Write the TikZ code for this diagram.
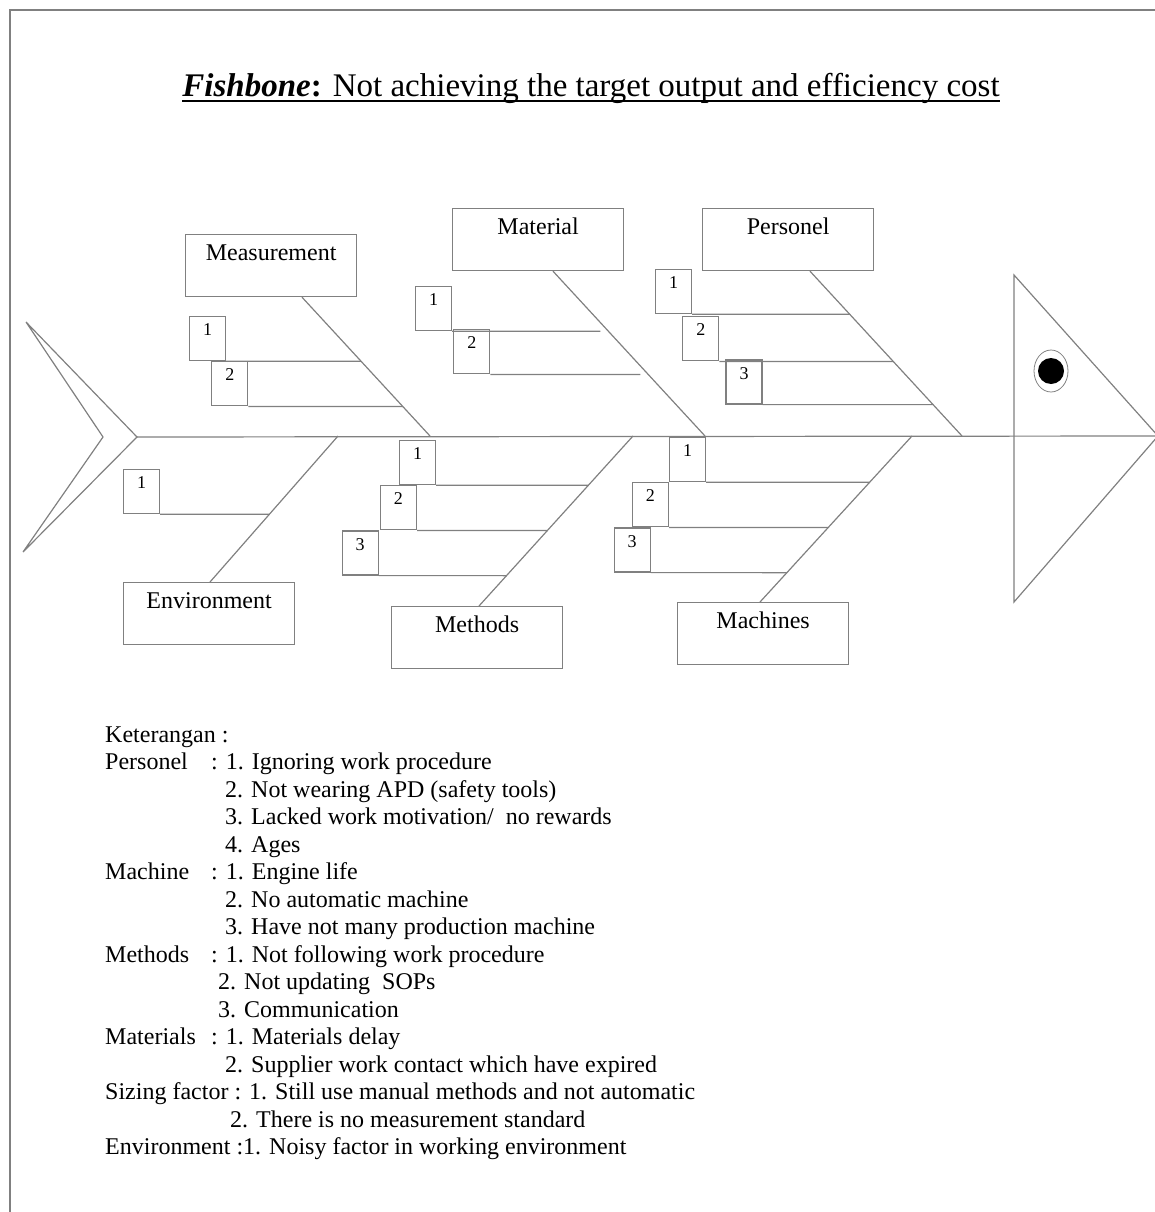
\documentclass[tikz,border=0pt]{standalone}
\usepackage{fontspec}
\setmainfont{Liberation Serif}
\usetikzlibrary{calc,positioning}

\tikzset{
  bone/.style={draw=gray, line width=1.2pt},
  cause/.style={draw=gray, line width=1.2pt, anchor=north west, minimum width=171pt,
    text height=20pt, text depth=30pt, inner xsep=2pt, inner ysep=6pt,
    font=\fontsize{24}{27}\selectfont},
  numbox/.style={draw=gray, line width=1.2pt, minimum width=36pt,
    text height=17pt, text depth=23pt, inner xsep=0pt, inner ysep=2pt,
    font=\fontsize{18}{20}\selectfont},
  legend/.style={anchor=base west, inner sep=0pt, font=\fontsize{24}{27.5}\selectfont}
}

\begin{document}
\begin{tikzpicture}[x=1pt,y=-1pt]
\useasboundingbox (0,0) rectangle (1155,1212);
\draw[gray, line width=1.5pt] (1155,10) -- (10,10) -- (10,1212);

\node[anchor=base, inner sep=0pt, font=\fontsize{33}{37}\selectfont] (title) at (591,97)
{\textbf{\textit{Fishbone}:} Not achieving the target output and efficiency cost};
\draw[line width=1.5pt] ([yshift=-4pt]title.base west) -- ([yshift=-4pt]title.base east);

% cause boxes
\node[cause] (meas) at (185,234) {Measurement};
\node[cause] (mat) at (452,208) {Material};
\node[cause] (pers) at (702,208) {Personel};
\node[cause] (env) at (123,582) {Environment};
\node[cause] (meth) at (391,606) {Methods};
\node[cause] (mach) at (677,602) {Machines};

% numbered boxes
\node[numbox, anchor=north west] (m1) at (189,316) {1};
\node[numbox] (m2) [below right=0pt and -15pt of m1] {2};
\node[numbox, anchor=north west] (t1) at (415,286) {1};
\node[numbox] (t2) [below right=-2pt and 1pt of t1] {2};
\node[numbox, anchor=north west] (p1) at (655,269) {1};
\node[numbox] (p2) [below right=2pt and -10pt of p1] {2};
\node[numbox] (p3) [below right=-2pt and 6pt of p2] {3};
\node[numbox, anchor=north west] (e1) at (123,469) {1};
\node[numbox, anchor=north west] (d1) at (399,440) {1};
\node[numbox] (d2) [below left=0pt and -18pt of d1] {2};
\node[numbox] (d3) [below left=0pt and 1pt of d2] {3};
\node[numbox, anchor=north west] (c1) at (669,437) {1};
\node[numbox] (c2) [below left=0pt and 0pt of c1] {2};
\node[numbox] (c3) [below left=0pt and -19pt of c2] {3};

% spine, tail and head
\coordinate (tailTop) at (26,322);
\coordinate (tailN) at (103,437);
\coordinate (tailV) at (137,437);
\coordinate (tailBot) at (23,552);
\coordinate (headTop) at (1014,275);
\coordinate (headBot) at (1014,602);
\coordinate (headTip) at (1158,436);
\draw[bone] (tailV) -- (headTip);
\draw[bone] (tailTop) -- (tailV) -- (tailBot) -- (tailN) -- cycle;
\draw[bone] (headTop) -- (headBot) -- (headTip) -- cycle;
\node[circle, fill=black, minimum size=26pt, inner sep=0pt] (eye) at (1051,371) {};
\draw[gray, line width=0.8pt] (eye.center) ellipse [x radius=17pt, y radius=21pt];

% upper bones
\coordinate (measB) at ($(meas.south west)+(117,0)$);
\coordinate (measJ) at (430,436);
\coordinate (matB) at ($(mat.south west)+(101,0)$);
\coordinate (matJ) at (705,436);
\coordinate (persB) at ($(pers.south west)+(108,0)$);
\coordinate (persJ) at (962,436);
\draw[bone] (measB) -- (measJ);
\draw[bone] (matB) -- (matJ);
\draw[bone] (persB) -- (persJ);
\draw[bone] (m1.south east) -- (intersection of m1.south west--m1.south east and measB--measJ);
\draw[bone] (m2.south east) -- (intersection of m2.south west--m2.south east and measB--measJ);
\draw[bone, shorten >=8pt] (t1.south east) -- (intersection of t1.south west--t1.south east and matB--matJ);
\draw[bone, shorten >=8pt] (t2.south east) -- (intersection of t2.south west--t2.south east and matB--matJ);
\draw[bone] (p1.south east) -- (intersection of p1.south west--p1.south east and persB--persJ);
\draw[bone] (p2.south east) -- (intersection of p2.south west--p2.south east and persB--persJ);
\draw[bone] (p3.south east) -- (intersection of p3.south west--p3.south east and persB--persJ);

% lower bones
\coordinate (envB) at ($(env.north west)+(87,0)$);
\coordinate (envJ) at (338,436);
\coordinate (methB) at ($(meth.north west)+(88,0)$);
\coordinate (methJ) at (633,436);
\coordinate (machB) at ($(mach.north west)+(83,0)$);
\coordinate (machJ) at (912,436);
\draw[bone] (envJ) -- (envB);
\draw[bone] (methJ) -- (methB);
\draw[bone] (machJ) -- (machB);
\draw[bone] (e1.south east) -- (intersection of e1.south west--e1.south east and envJ--envB);
\draw[bone] (d1.south east) -- (intersection of d1.south west--d1.south east and methJ--methB);
\draw[bone] (d2.south east) -- (intersection of d2.south west--d2.south east and methJ--methB);
\draw[bone] (d3.south east) -- (intersection of d3.south west--d3.south east and methJ--methB);
\draw[bone] (c1.south east) -- (intersection of c1.south west--c1.south east and machJ--machB);
\draw[bone] (c2.south east) -- (intersection of c2.south west--c2.south east and machJ--machB);
\draw[bone] (c3.south east) -- (intersection of c3.south west--c3.south east and machJ--machB);

% legend
\node[legend] (ket) at (105,742) {Keterangan :};
\node[legend] (lPer) at (105,769.5) {Personel};
\node[legend] (per1) at (211,769.5) {: 1. Ignoring work procedure};
\node[legend] (per2) at (225,797) {2. Not wearing APD (safety tools)};
\node[legend] (per3) at (225,824.5) {3. Lacked work motivation/\ \ no rewards};
\node[legend] (per4) at (225,852) {4. Ages};
\node[legend] (lMac) at (105,879.5) {Machine};
\node[legend] (mac1) at (211,879.5) {: 1. Engine life};
\node[legend] (mac2) at (225,907) {2. No automatic machine};
\node[legend] (mac3) at (225,934.5) {3. Have not many production machine};
\node[legend] (lMet) at (105,962) {Methods};
\node[legend] (met1) at (211,962) {: 1. Not following work procedure};
\node[legend] (met2) at (218,989.5) {2. Not updating\ \ SOPs};
\node[legend] (met3) at (218,1017) {3. Communication};
\node[legend] (lMat) at (105,1044.5) {Materials};
\node[legend] (mat1) at (211,1044.5) {: 1. Materials delay};
\node[legend] (mat2) at (225,1072) {2. Supplier work contact which have expired};
\node[legend] (siz1) at (105,1099.5) {Sizing factor : 1. Still use manual methods and not automatic};
\node[legend] (siz2) at (230,1127) {2. There is no measurement standard};
\node[legend] (envi) at (105,1154.5) {Environment :1. Noisy factor in working environment};
\end{tikzpicture}
\end{document}
